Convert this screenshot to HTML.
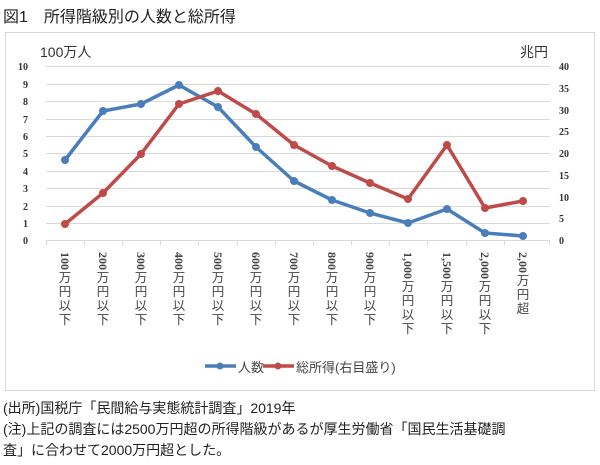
<!DOCTYPE html>
<html><head><meta charset="utf-8"><style>
body{margin:0;width:600px;height:465px;background:#fff;overflow:hidden;font-family:"Liberation Sans","Noto Sans CJK JP",sans-serif;color:#222}
.t{position:absolute;white-space:nowrap}
.xl{position:absolute;top:252px;width:14px;display:flex;flex-direction:column;align-items:center;font-size:12.5px;color:#444;line-height:14px}
.xl b{font-weight:bold;writing-mode:vertical-rl;font-family:"Liberation Serif",serif;font-size:12px;line-height:12px;white-space:nowrap;margin-bottom:1px}
</style></head><body>
<div class="t" style="left:3px;top:3px;font-size:16px">図1　所得階級別の人数と総所得</div>
<div style="position:absolute;left:5px;top:32px;width:588px;height:357px;border:1px solid #d9d9d9"></div>
<div class="t" style="left:40px;top:42px;font-size:14px;color:#333">100万人</div>
<div class="t" style="left:520px;top:42px;font-size:14px;color:#333">兆円</div>
<svg width="600" height="465" style="position:absolute;left:0;top:0">
<g stroke="#d9d9d9" stroke-width="1">
<line x1="46" x2="550" y1="66.5" y2="66.5"/><line x1="46" x2="550" y1="84.5" y2="84.5"/><line x1="46" x2="550" y1="101.5" y2="101.5"/><line x1="46" x2="550" y1="119.5" y2="119.5"/><line x1="46" x2="550" y1="136.5" y2="136.5"/><line x1="46" x2="550" y1="153.5" y2="153.5"/><line x1="46" x2="550" y1="171.5" y2="171.5"/><line x1="46" x2="550" y1="188.5" y2="188.5"/><line x1="46" x2="550" y1="206.5" y2="206.5"/><line x1="46" x2="550" y1="223.5" y2="223.5"/>
<line x1="46" x2="550" y1="240.5" y2="240.5"/>
<path d="M46.5 240v5M84.5 240v5M122.5 240v5M160.5 240v5M198.5 240v5M237.5 240v5M275.5 240v5M313.5 240v5M351.5 240v5M389.5 240v5M427.5 240v5M466.5 240v5M504.5 240v5M549.5 240v5"/>
</g>
<g font-family="Liberation Serif,serif" font-weight="bold" font-size="10" fill="#333" text-anchor="end">
<text x="28" y="70">10</text><text x="28" y="88">9</text><text x="28" y="105">8</text><text x="28" y="123">7</text><text x="28" y="140">6</text><text x="28" y="157">5</text><text x="28" y="175">4</text><text x="28" y="192">3</text><text x="28" y="210">2</text><text x="28" y="227">1</text><text x="28" y="244">0</text>
</g>
<g font-family="Liberation Serif,serif" font-weight="bold" font-size="10" fill="#333">
<text x="559" y="70">40</text><text x="559" y="92">35</text><text x="559" y="114">30</text><text x="559" y="135">25</text><text x="559" y="157">20</text><text x="559" y="179">15</text><text x="559" y="201">10</text><text x="559" y="222">5</text><text x="559" y="244">0</text>
</g>
<polyline fill="none" stroke="#4a7ebb" stroke-width="3.5" stroke-linejoin="round" points="65,160 103,111 141,104 179,85 218,107 256,147 294,181 332,200 370,213 408,223 447,209 485,233 523,236"/>
<polyline fill="none" stroke="#be4b48" stroke-width="3.5" stroke-linejoin="round" points="65,224 103,193 141,154 179,104 218,91 256,114 294,145 332,166 370,183 408,199 447,145 485,208 523,201"/>
<g fill="#4a7ebb"><circle cx="65" cy="160" r="4"/><circle cx="103" cy="111" r="4"/><circle cx="141" cy="104" r="4"/><circle cx="179" cy="85" r="4"/><circle cx="218" cy="107" r="4"/><circle cx="256" cy="147" r="4"/><circle cx="294" cy="181" r="4"/><circle cx="332" cy="200" r="4"/><circle cx="370" cy="213" r="4"/><circle cx="408" cy="223" r="4"/><circle cx="447" cy="209" r="4"/><circle cx="485" cy="233" r="4"/><circle cx="523" cy="236" r="4"/></g>
<g fill="#be4b48"><circle cx="65" cy="224" r="4"/><circle cx="103" cy="193" r="4"/><circle cx="141" cy="154" r="4"/><circle cx="179" cy="104" r="4"/><circle cx="218" cy="91" r="4"/><circle cx="256" cy="114" r="4"/><circle cx="294" cy="145" r="4"/><circle cx="332" cy="166" r="4"/><circle cx="370" cy="183" r="4"/><circle cx="408" cy="199" r="4"/><circle cx="447" cy="145" r="4"/><circle cx="485" cy="208" r="4"/><circle cx="523" cy="201" r="4"/></g>
<line x1="205" x2="236" y1="366" y2="366" stroke="#4a7ebb" stroke-width="3.5"/><circle cx="220" cy="366" r="3.5" fill="#4a7ebb"/>
<line x1="263" x2="294" y1="366" y2="366" stroke="#be4b48" stroke-width="3.5"/><circle cx="278" cy="366" r="3.5" fill="#be4b48"/>
</svg>
<div class="t" style="left:238px;top:357px;font-size:13px;color:#444">人数</div>
<div class="t" style="left:296px;top:357px;font-size:13px;color:#444">総所得(右目盛り)</div>
<div class="xl" style="left:58px"><b>100</b><span>万</span><span>円</span><span>以</span><span>下</span></div>
<div class="xl" style="left:96px"><b>200</b><span>万</span><span>円</span><span>以</span><span>下</span></div>
<div class="xl" style="left:134px"><b>300</b><span>万</span><span>円</span><span>以</span><span>下</span></div>
<div class="xl" style="left:172px"><b>400</b><span>万</span><span>円</span><span>以</span><span>下</span></div>
<div class="xl" style="left:211px"><b>500</b><span>万</span><span>円</span><span>以</span><span>下</span></div>
<div class="xl" style="left:249px"><b>600</b><span>万</span><span>円</span><span>以</span><span>下</span></div>
<div class="xl" style="left:287px"><b>700</b><span>万</span><span>円</span><span>以</span><span>下</span></div>
<div class="xl" style="left:325px"><b>800</b><span>万</span><span>円</span><span>以</span><span>下</span></div>
<div class="xl" style="left:363px"><b>900</b><span>万</span><span>円</span><span>以</span><span>下</span></div>
<div class="xl" style="left:401px"><b>1,000</b><span>万</span><span>円</span><span>以</span><span>下</span></div>
<div class="xl" style="left:440px"><b>1,500</b><span>万</span><span>円</span><span>以</span><span>下</span></div>
<div class="xl" style="left:478px"><b>2,000</b><span>万</span><span>円</span><span>以</span><span>下</span></div>
<div class="xl" style="left:516px"><b>2,00</b><span>万</span><span>円</span><span>超</span></div>
<div class="t" style="left:3px;top:398px;font-size:14px">(出所)国税庁「民間給与実態統計調査」2019年</div>
<div class="t" style="left:3px;top:419px;font-size:14px">(注)上記の調査には2500万円超の所得階級があるが厚生労働省「国民生活基礎調</div>
<div class="t" style="left:3px;top:440px;font-size:14px">査」に合わせて2000万円超とした。</div>
</body></html>
